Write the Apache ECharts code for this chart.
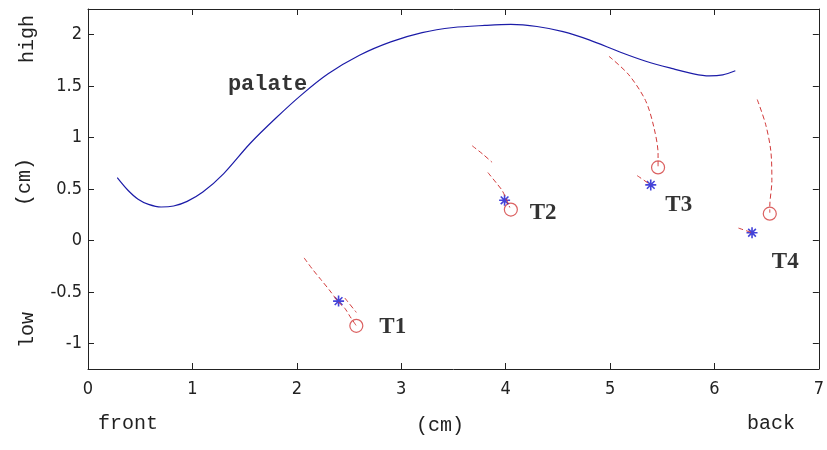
<!DOCTYPE html>
<html>
<head>
<meta charset="utf-8">
<script src="https://cdn.jsdelivr.net/npm/echarts@6/dist/echarts.min.js"></script>
<style>
  html, body { margin: 0; padding: 0; background: #fff; }
  #main { width: 827px; height: 450px; }
</style>
</head>
<body>
<div id="main"></div>
<script>
// palate outline (cm)
const palate = [
  [0.28, 0.61], [0.38, 0.49], [0.48, 0.40], [0.58, 0.35], [0.70, 0.325],
  [0.82, 0.335], [0.95, 0.38], [1.1, 0.47], [1.3, 0.65], [1.55, 0.94],
  [1.8, 1.19], [2.05, 1.42], [2.3, 1.62], [2.6, 1.8], [2.9, 1.93],
  [3.2, 2.02], [3.5, 2.07], [3.8, 2.09], [4.05, 2.10], [4.3, 2.08],
  [4.55, 2.03], [4.8, 1.95], [5.1, 1.83], [5.35, 1.74], [5.6, 1.67],
  [5.8, 1.62], [5.95, 1.60], [6.08, 1.61], [6.2, 1.65]
];

// tongue sensor trajectories (dashed)
const t1Path = [[2.07, -0.17], [2.15, -0.28], [2.23, -0.38], [2.31, -0.48], [2.40, -0.60], [2.46, -0.66], [2.51, -0.74], [2.57, -0.83]];
const t1Tail = [[2.46, -0.56], [2.57, -0.70]];
const t2Path = [[3.68, 0.92], [3.78, 0.84], [3.87, 0.76]];
const t2Tail = [[3.83, 0.66], [3.91, 0.56], [3.97, 0.48], [4.04, 0.32]];
const t3Path = [[4.99, 1.79], [5.18, 1.61], [5.34, 1.36], [5.42, 1.10], [5.46, 0.84], [5.46, 0.72]];
const t3Tail = [[5.26, 0.63], [5.39, 0.54]];
const t4Path = [[6.41, 1.37], [6.49, 1.13], [6.54, 0.87], [6.55, 0.58], [6.53, 0.33], [6.53, 0.27]];
const t4Tail = [[6.23, 0.12], [6.36, 0.075]];

// start (*) and end (o) points
const stars = [[2.40, -0.59], [3.99, 0.39], [5.39, 0.54], [6.36, 0.075]];
const circles = [[2.57, -0.83], [4.05, 0.30], [5.46, 0.71], [6.53, 0.26]];

// text labels
const sensorLabels = [
  { name: 'T1', value: [2.79, -0.84] },
  { name: 'T2', value: [4.23, 0.27] },
  { name: 'T3', value: [5.53, 0.34] },
  { name: 'T4', value: [6.55, -0.21] }
];
const palateLabel = [{ name: 'palate', value: [1.34, 1.52] }];

const yTicks = [-1, -0.5, 0, 0.5, 1, 1.5, 2];

const tickFont = "'Liberation Sans Narrow', 'DejaVu Sans Condensed', sans-serif";
const monoFont = "'Liberation Mono', 'DejaVu Sans Mono', monospace";
const red = '#d23a3a';
const blue = '#1c1ca8';

function dashed(data) {
  return {
    type: 'line', data: data, smooth: 0.3, symbol: 'none', silent: true,
    lineStyle: { color: red, width: 1, type: [5, 3] }
  };
}

const axisLineStyle = { color: '#222', width: 1 };

function frameAxis(pos, extra) {
  return Object.assign({
    type: 'value', position: pos,
    axisLine: { show: true, onZero: false, lineStyle: axisLineStyle },
    axisTick: { show: true, inside: true, length: 6, lineStyle: axisLineStyle },
    axisLabel: { show: false },
    splitLine: { show: false }
  }, extra);
}

const chart = echarts.init(document.getElementById('main'));
chart.setOption({
  backgroundColor: '#fff',
  animation: false,
  grid: { left: 88, right: 6, top: 9, bottom: 81 },
  xAxis: [
    frameAxis('bottom', {
      min: 0, max: 7, interval: 1,
      axisLabel: { fontFamily: tickFont, fontSize: 18, color: '#222', margin: 11 }
    }),
    frameAxis('top', { min: 0, max: 7, interval: 1 })
  ],
  yAxis: [
    frameAxis('left', {
      min: -1.25, max: 2.25,
      axisTick: { show: true, inside: true, length: 6, lineStyle: axisLineStyle, customValues: yTicks },
      axisLabel: { fontFamily: tickFont, fontSize: 18, color: '#222', margin: 6, customValues: yTicks }
    }),
    frameAxis('right', {
      min: -1.25, max: 2.25,
      axisTick: { show: true, inside: true, length: 6, lineStyle: axisLineStyle, customValues: yTicks }
    })
  ],
  series: [
    {
      type: 'line', data: palate, smooth: 0.3, symbol: 'none', silent: true,
      lineStyle: { color: blue, width: 1.2 }
    },
    dashed(t1Path), dashed(t1Tail), dashed(t2Path), dashed(t2Tail),
    dashed(t3Path), dashed(t3Tail), dashed(t4Path), dashed(t4Tail),
    {
      type: 'scatter', data: circles, symbol: 'circle', symbolSize: 13, silent: true,
      itemStyle: { color: 'transparent', borderColor: red, borderWidth: 1.2 }
    },
    {
      type: 'scatter', data: stars, silent: true,
      symbol: 'path://M5,0L5,10M0,5L10,5M1.5,1.5L8.5,8.5M8.5,1.5L1.5,8.5',
      symbolSize: 11,
      itemStyle: { color: 'transparent', borderColor: '#1414d0', borderWidth: 1.6 }
    },
    {
      type: 'scatter', data: sensorLabels, symbolSize: 0, silent: true,
      label: {
        show: true, position: 'right', distance: 0, formatter: '{b}',
        fontFamily: "'Liberation Serif', 'DejaVu Serif', serif", fontWeight: 'bold',
        fontSize: 23, color: '#000'
      }
    },
    {
      type: 'scatter', data: palateLabel, symbolSize: 0, silent: true,
      label: {
        show: true, position: 'right', distance: 0, formatter: '{b}',
        fontFamily: monoFont, fontWeight: 'bold', fontSize: 22, color: '#000'
      }
    }
  ],
  graphic: [
    { type: 'text', x: 28, y: 39, rotation: Math.PI / 2,
      style: { text: 'high', font: '20px ' + monoFont, fill: '#222', align: 'center', verticalAlign: 'middle' } },
    { type: 'text', x: 25, y: 182, rotation: Math.PI / 2,
      style: { text: '(cm)', font: '20px ' + monoFont, fill: '#222', align: 'center', verticalAlign: 'middle' } },
    { type: 'text', x: 28, y: 330, rotation: Math.PI / 2,
      style: { text: 'low', font: '20px ' + monoFont, fill: '#222', align: 'center', verticalAlign: 'middle' } },
    { type: 'text', x: 128, y: 424,
      style: { text: 'front', font: '20px ' + monoFont, fill: '#222', align: 'center', verticalAlign: 'middle' } },
    { type: 'text', x: 440, y: 426,
      style: { text: '(cm)', font: '20px ' + monoFont, fill: '#222', align: 'center', verticalAlign: 'middle' } },
    { type: 'text', x: 771, y: 424,
      style: { text: 'back', font: '20px ' + monoFont, fill: '#222', align: 'center', verticalAlign: 'middle' } }
  ]
});
</script>
</body>
</html>
